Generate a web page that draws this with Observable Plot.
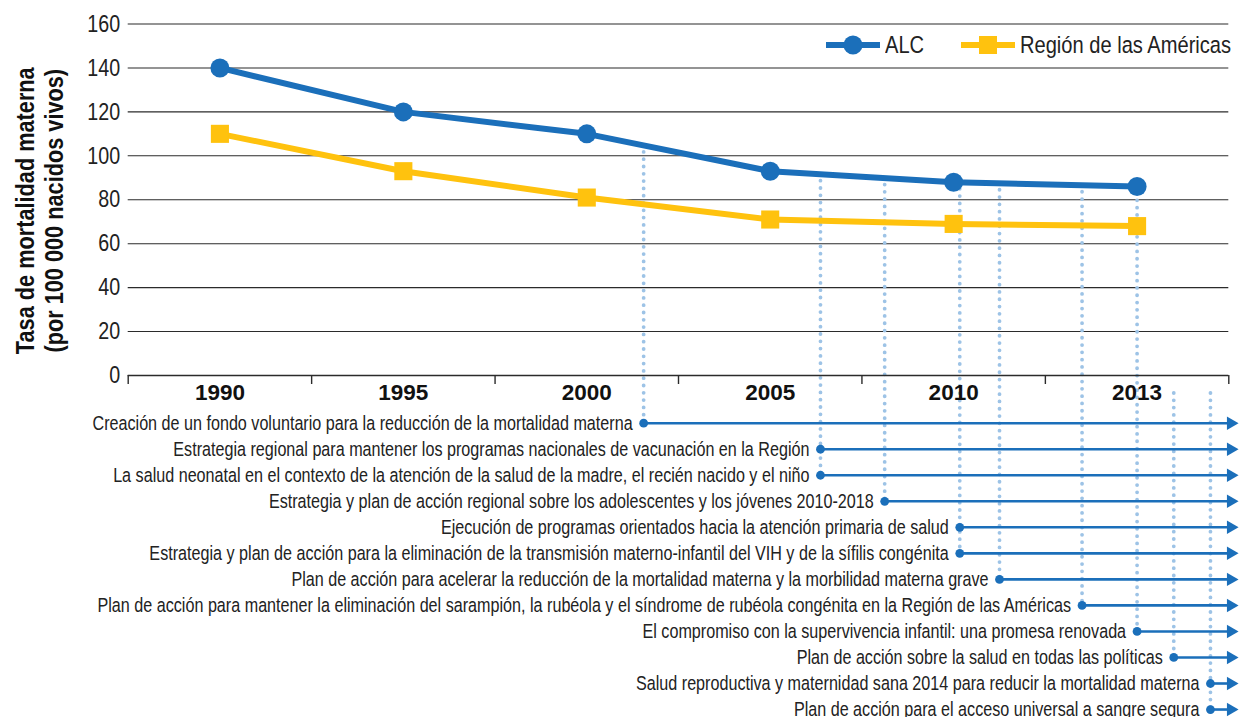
<!DOCTYPE html>
<html>
<head>
<meta charset="utf-8">
<script src="https://cdn.jsdelivr.net/npm/d3@7"></script>
<script src="https://cdn.jsdelivr.net/npm/@observablehq/plot@0.6"></script>
<style>
  body { margin: 0; background: #fff; }
  #wrap { position: relative; width: 1241px; height: 717px; font-family: "Liberation Sans", Arial, sans-serif; }
  .lg { position: absolute; display: flex; align-items: center; height: 24px; font-size: 24.5px; color: #222; white-space: nowrap; }
  .lg svg { display: block; margin-right: 5px; }
  .lg span { display: inline-block; transform: scaleX(0.82); transform-origin: left center; }
</style>
</head>
<body>
<div id="wrap"></div>
<script>
// ---------- data ----------
const years = [1990, 1995, 2000, 2005, 2010, 2013];
const alc = [140, 120, 110, 93, 88, 86];
const americas = [110, 93, 81, 71, 69, 68];
const seriesNames = ["ALC", "Región de las Américas"];
const seriesColors = ["#1b6fba", "#ffc20e"];
const yTicks = [0, 20, 40, 60, 80, 100, 120, 140, 160];
const yTitle = ["Tasa de mortalidad materna", "(por 100 000 nacidos vivos)"];

const eventLabels = [
  "Creación de un fondo voluntario para la reducción de la mortalidad materna",
  "Estrategia regional para mantener los programas nacionales de vacunación en la Región",
  "La salud neonatal en el contexto de la atención de la salud de la madre, el recién nacido y el niño",
  "Estrategia y plan de acción regional sobre los adolescentes y los jóvenes 2010-2018",
  "Ejecución de programas orientados hacia la atención primaria de salud",
  "Estrategia y plan de acción para la eliminación de la transmisión materno-infantil del VIH y de la sífilis congénita",
  "Plan de acción para acelerar la reducción de la mortalidad materna y la morbilidad materna grave",
  "Plan de acción para mantener la eliminación del sarampión, la rubéola y el síndrome de rubéola congénita en la Región de las Américas",
  "El compromiso con la supervivencia infantil: una promesa renovada",
  "Plan de acción sobre la salud en todas las políticas",
  "Salud reproductiva y maternidad sana 2014 para reducir la mortalidad materna",
  "Plan de acción para el acceso universal a sangre segura"
];
const eventYears = [2001.55, 2006.37, 2006.37, 2008.12, 2010.1, 2010.1, 2010.75, 2012.1, 2013.0, 2013.6, 2014.2, 2014.2];

// ---------- layout helpers ----------
const W = 1241, H = 717;
const marginTop = 23.5, marginBottom = 0, marginLeft = 127.7, marginRight = 12.7;
const zeroPx = 375;                                  // pixel row of y = 0
const yMax = 160;
const pxPerUnit = (zeroPx - marginTop) / yMax;
const yMin = -(H - marginBottom - zeroPx) / pxPerUnit;
const rowPx0 = 422.7, rowStep = 26.03;
const rowY = i => -(rowPx0 - zeroPx + rowStep * i) / pxPerUnit;
const NARROW = 0.82;                                 // horizontal condensing of the light texts

const slotOf = d3.scaleLinear().domain(years).range(d3.range(years.length)); // piecewise year -> slot
const alcAt = d3.scaleLinear().domain(d3.range(years.length)).range(alc);
const lastSlot = years.length - 1;

const seriesData = [];
[alc, americas].forEach((vals, k) => years.forEach((yr, i) => seriesData.push({series: seriesNames[k], slot: i, value: vals[i]})));

const events = eventLabels.map((label, i) => ({label, slot: slotOf(eventYears[i]), y: rowY(i), i}));

// vertical dotted guides: one per distinct event position, down to its lowest row
const guideMap = new Map();
for (const e of events) {
  const key = e.slot.toFixed(3);
  const g = guideMap.get(key);
  if (!g || e.y < g.bottom) guideMap.set(key, {slot: e.slot, bottom: e.y});
}
const guides = [...guideMap.values()].map(g => ({...g, top: g.slot <= lastSlot + 0.01 ? alcAt(Math.min(g.slot, lastSlot)) : -5}));

const boundaries = d3.range(years.length + 1).map(i => i - 0.5);
const xEnd = years.length - 0.5;

const chart = Plot.plot({
  width: W, height: H,
  marginTop, marginBottom, marginLeft, marginRight,
  style: {fontFamily: `"Liberation Sans", Arial, sans-serif`, background: "#fff", overflow: "visible"},
  x: {domain: [-0.5, xEnd], axis: null},
  y: {domain: [yMin, yMax], axis: null},
  marks: [
    // gridlines
    Plot.ruleY(yTicks.filter(d => d > 0), {x1: -0.5, x2: xEnd, stroke: "#2b2b2b", strokeWidth: 1.1}),
    // dotted guides
    Plot.ruleX(guides, {x: "slot", y1: "top", y2: "bottom", stroke: "#9dc3e6", strokeWidth: 3.8, strokeDasharray: "0 7.3", strokeLinecap: "round", insetTop: 7}),
    // baseline and band ticks
    Plot.ruleY([0], {x1: -0.5, x2: xEnd, stroke: "#2b2b2b", strokeWidth: 1.4}),
    Plot.ruleX(boundaries, {x: d => d, y1: 0, y2: -9 / pxPerUnit, stroke: "#2b2b2b", strokeWidth: 1.4}),
    // y tick labels
    Plot.text(yTicks, {x: -0.5, y: d => d, text: d => String(d), textAnchor: "end", dx: -8, fontSize: 24, fill: "#222", className: "narrow"}),
    // year labels
    Plot.text(years, {x: (d, i) => i, y: 0, text: d => String(d), dy: 17.5, fontSize: 22.5, fontWeight: "bold", fill: "#111"}),
    // y title
    Plot.text([yTitle.join("\n")], {frameAnchor: "left", y: 80, dy: 11, dx: -88.7, rotate: -90, textAnchor: "middle", lineAnchor: "middle", fontSize: 26.5, fontWeight: "bold", lineHeight: 1.06, fill: "#111", className: "narrow"}),
    // series lines
    Plot.line(seriesData, {x: "slot", y: "value", z: "series", stroke: "series", strokeWidth: 6, strokeLinejoin: "round"}),
    Plot.dot(seriesData.filter(d => d.series === seriesNames[0]), {x: "slot", y: "value", r: 9.5, fill: seriesColors[0], symbol: "circle"}),
    Plot.dot(seriesData.filter(d => d.series === seriesNames[1]), {x: "slot", y: "value", r: 10.2, fill: seriesColors[1], symbol: "square"}),
    // event arrows
    Plot.ruleY(events, {y: "y", x1: "slot", x2: xEnd, stroke: "#1b6fba", strokeWidth: 2.6}),
    Plot.dot(events, {x: xEnd, y: "y", symbol: "triangle", rotate: 90, r: 5, fill: "#1b6fba", dx: 2, stroke: "none"}),
    Plot.dot(events, {x: "slot", y: "y", r: 4.4, fill: "#1b6fba"}),
    Plot.text(events, {x: "slot", y: "y", text: "label", textAnchor: "end", dx: -11, fontSize: 19.7, fill: "#222", className: "narrow"})
  ],
  color: {domain: seriesNames, range: seriesColors}
});

// condense the light texts horizontally around their anchor points
chart.querySelectorAll("g.narrow text").forEach(t => {
  const tr = t.getAttribute("transform") || "";
  t.setAttribute("transform", `${tr} scale(${NARROW},1)`);
});

const wrap = document.getElementById("wrap");
wrap.appendChild(chart);

// legend (top-right, inside plot area)
const legendItems = [
  {name: seriesNames[0], color: seriesColors[0], shape: "circle", left: 826},
  {name: seriesNames[1], color: seriesColors[1], shape: "square", left: 961}
];
for (const it of legendItems) {
  const div = document.createElement("div");
  div.className = "lg";
  div.style.left = it.left + "px";
  div.style.top = "33px";
  const mk = it.shape === "circle"
    ? `<circle cx="27" cy="12" r="9.5" fill="${it.color}"/>`
    : `<rect x="18" y="3" width="18" height="18" fill="${it.color}"/>`;
  div.innerHTML = `<svg width="54" height="24"><line x1="0" y1="12" x2="54" y2="12" stroke="${it.color}" stroke-width="6"/>${mk}</svg><span>${it.name}</span>`;
  wrap.appendChild(div);
}
</script>
</body>
</html>
